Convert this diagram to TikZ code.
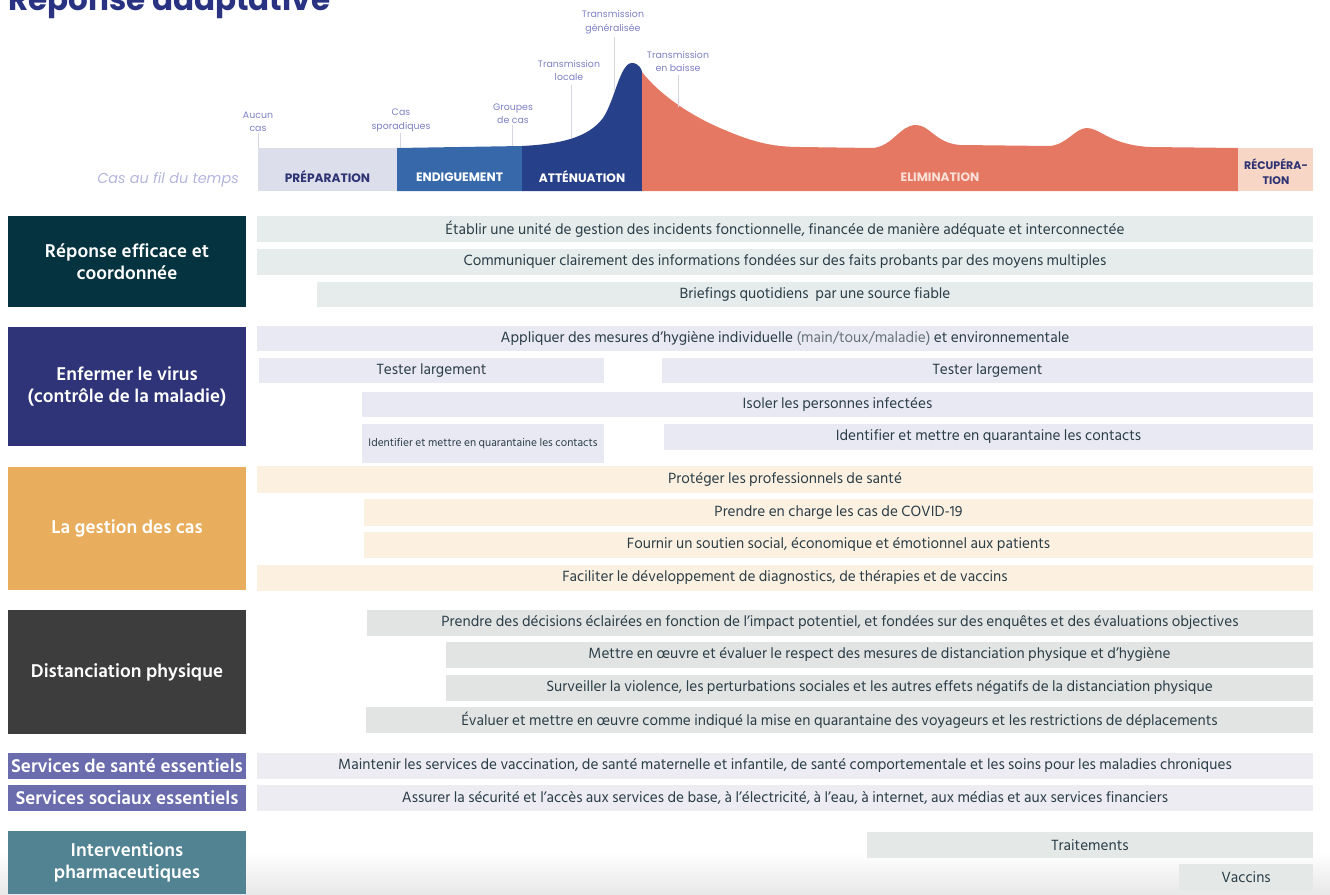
\documentclass[tikz,border=0pt]{standalone}
\usepackage{fontspec}
\setmainfont{Hind Siliguri}
\newfontfamily\geo{Poppins}
\definecolor{titleC}{HTML}{2A3382}
\definecolor{lblC}{HTML}{7D80C4}
\definecolor{tickC}{HTML}{D4D6E0}
\definecolor{casC}{HTML}{B3B5DD}
\definecolor{prepC}{HTML}{DDDEEC}
\definecolor{navyT}{HTML}{2E3373}
\definecolor{endC}{HTML}{3768AA}
\definecolor{attC}{HTML}{27408A}
\definecolor{elimC}{HTML}{E47863}
\definecolor{elimT}{HTML}{FAE0D6}
\definecolor{recC}{HTML}{F7D6C5}
\definecolor{catA}{HTML}{063340}
\definecolor{catB}{HTML}{2E3477}
\definecolor{catC}{HTML}{E9AE5D}
\definecolor{catD}{HTML}{3D3D3D}
\definecolor{catE}{HTML}{6B6CAD}
\definecolor{catF}{HTML}{528392}
\definecolor{gA}{HTML}{E5ECEB}
\definecolor{gB}{HTML}{E9E9F4}
\definecolor{gC}{HTML}{FCF1E1}
\definecolor{gD}{HTML}{E2E4E3}
\definecolor{gE}{HTML}{ECECF2}
\definecolor{gF}{HTML}{E4E9E8}
\definecolor{barT}{HTML}{2B3D47}
\definecolor{softT}{HTML}{66727B}
\newcommand\rbar[8]{\node[#8, fill=#2, minimum width={(#5-#3)*1pt}, minimum height={(#6-#4)*1pt}] (#1) at ({(#3+#5)/2},{(#4+#6)/2}) {#7};}
\begin{document}
\begin{tikzpicture}[x=1pt,y=-1pt,
  rowbar/.style={inner sep=0pt, text=barT, font=\fontsize{15.2}{17}\selectfont},
  catbox/.style={inner sep=0pt, text=white, align=center, font=\fontsize{19}{22}\selectfont\bfseries},
  phasebox/.style={inner sep=0pt, align=center, font=\geo\fontsize{12.2}{13}\selectfont\bfseries},
  lbl/.style={inner sep=1pt, align=center, text=lblC, font=\geo\fontsize{9.4}{13.5}\selectfont},
  tick/.style={draw=tickC, line width=0.8pt}]
\useasboundingbox (0,0) rectangle (1330,894);
\shade[top color=white, bottom color=black!9] (0,852) rectangle (1330,894);
% title
\node[anchor=base west, inner sep=0pt, text=titleC, font=\geo\fontsize{31}{34}\selectfont\bfseries] (title) at (8,10) {Réponse adaptative};
% curve
\fill[endC] (397,148) -- (397,191) -- (522,191) -- (522,146) -- cycle;
\fill[attC] (522,146) .. controls (560,144) and (588,138) .. (603,118) .. controls (615,100) and (620,63) .. (632,63) .. controls (639,63) and (642,70) .. (642,72) -- (642,191) -- (522,191) -- cycle;
\fill[elimC] (642,72) .. controls (660,95) and (690,115) .. (720,128) .. controls (750,141) and (770,147) .. (800,147) -- (873,148) .. controls (893,146) and (900,125) .. (916,125) .. controls (930,125) and (935,143) .. (960,145) -- (1050,146) .. controls (1068,144) and (1075,128) .. (1087,128) .. controls (1100,128) and (1110,145) .. (1150,147) -- (1238,148) -- (1238,191) -- (642,191) -- cycle;
\fill[prepC] (258,148) rectangle (397,191);
\node[phasebox, text=navyT] (p1) at (327.5,177) {PRÉPARATION};
\node[phasebox, text=white] (p2) at (459.5,177) {ENDIGUEMENT};
\node[phasebox, text=white] (p3) at (582,177) {ATTÉNUATION};
\node[phasebox, text=elimT] (p4) at (940,177) {ELIMINATION};
\fill[recC] (1238,148) rectangle (1313,191);
\node[phasebox, text=navyT, font=\geo\fontsize{11}{15}\selectfont\bfseries] (p5) at (1276,172) {RÉCUPÉRA-\\TION};
\node[anchor=east, inner sep=0pt, text=casC, font=\geo\fontsize{14.4}{16}\selectfont\itshape] (cas) at (239,180) {Cas au fil du temps};
% curve labels
\node[lbl, anchor=south] (l1) at (258,133) {Aucun\\cas};
\coordinate (t1) at (258,148);
\draw[tick] (l1.south) -- (t1);
\node[lbl, anchor=south] (l2) at (401,133) {Cas\\sporadiques};
\coordinate (t2) at (400,148);
\draw[tick] (400,133) -- (t2);
\node[lbl, anchor=south] (l3) at (513,125) {Groupes\\de cas};
\coordinate (t3) at (512,146);
\draw[tick] (512,125) -- (t3);
\node[lbl, anchor=south] (l4) at (569,82) {Transmission\\locale};
\coordinate (t4) at (571,138);
\draw[tick] (571,85) -- (t4);
\node[lbl, anchor=south] (l5) at (613,35) {Transmission\\généralisée};
\coordinate (t5) at (614,92);
\draw[tick] (614,37) -- (t5);
\node[lbl, anchor=south] (l6) at (678,73) {Transmission\\en baisse};
\coordinate (t6) at (678,107);
\draw[tick] (678,75) -- (t6);
% categories
\rbar{c1}{catA}{8}{216}{246}{307}{Réponse efficace et\\coordonnée}{catbox}
\rbar{c2}{catB}{8}{327}{246}{446}{Enfermer le virus\\(contrôle de la maladie)}{catbox}
\rbar{c3}{catC}{8}{467}{246}{590}{La gestion des cas}{catbox}
\rbar{c4}{catD}{8}{610}{246}{734}{Distanciation physique}{catbox}
\rbar{c5}{catE}{8}{753}{246}{779}{Services de santé essentiels}{catbox}
\rbar{c6}{catE}{8}{785}{246}{811}{Services sociaux essentiels}{catbox}
\rbar{c7}{catF}{8}{831}{246}{894}{Interventions\\pharmaceutiques}{catbox}
% group 1
\rbar{a1}{gA}{257}{216}{1313}{242}{Établir une unité de gestion des incidents fonctionnelle, financée de manière adéquate et interconnectée}{rowbar}
\rbar{a2}{gA}{257}{249}{1313}{275}{Communiquer clairement des informations fondées sur des faits probants par des moyens multiples}{rowbar}
\rbar{a3}{gA}{317}{282}{1313}{307}{Briefings quotidiens\ \ par une source fiable}{rowbar}
% group 2
\rbar{b1}{gB}{257}{326}{1313}{351}{Appliquer des mesures d’hygiène individuelle {\color{softT}(main/toux/maladie)} et environnementale}{rowbar}
\rbar{b2}{gB}{259}{358}{604}{383}{Tester largement}{rowbar}
\rbar{b3}{gB}{662}{358}{1313}{383}{Tester largement}{rowbar}
\rbar{b4}{gB}{362}{392}{1313}{417}{Isoler les personnes infectées}{rowbar}
\rbar{b5}{gB}{362}{424}{604}{463}{Identifier et mettre en quarantaine les contacts}{rowbar, font=\fontsize{11.4}{12}\selectfont}
\rbar{b6}{gB}{664}{424}{1313}{450}{Identifier et mettre en quarantaine les contacts}{rowbar}
% group 3
\rbar{d1}{gC}{257}{466}{1313}{493}{Protéger les professionnels de santé}{rowbar}
\rbar{d2}{gC}{364}{499}{1313}{526}{Prendre en charge les cas de COVID-19}{rowbar}
\rbar{d3}{gC}{364}{532}{1313}{558}{Fournir un soutien social, économique et émotionnel aux patients}{rowbar}
\rbar{d4}{gC}{257}{565}{1313}{591}{Faciliter le développement de diagnostics, de thérapies et de vaccins}{rowbar}
% group 4
\rbar{e1}{gD}{367}{610}{1313}{636}{Prendre des décisions éclairées en fonction de l’impact potentiel, et fondées sur des enquêtes et des évaluations objectives}{rowbar}
\rbar{e2}{gD}{446}{642}{1313}{668}{Mettre en œuvre et évaluer le respect des mesures de distanciation physique et d’hygiène}{rowbar}
\rbar{e3}{gD}{446}{675}{1313}{701}{Surveiller la violence, les perturbations sociales et les autres effets négatifs de la distanciation physique}{rowbar}
\rbar{e4}{gD}{366}{707}{1313}{733}{Évaluer et mettre en œuvre comme indiqué la mise en quarantaine des voyageurs et les restrictions de déplacements}{rowbar}
% group 5
\rbar{f1}{gE}{257}{753}{1313}{779}{Maintenir les services de vaccination, de santé maternelle et infantile, de santé comportementale et les soins pour les maladies chroniques}{rowbar}
\rbar{f2}{gE}{257}{785}{1313}{811}{Assurer la sécurité et l’accès aux services de base, à l’électricité, à l’eau, à internet, aux médias et aux services financiers}{rowbar}
% group 6
\rbar{h1}{gF}{867}{832}{1313}{858}{Traitements}{rowbar}
\rbar{h2}{gF}{1179}{864}{1313}{891}{Vaccins}{rowbar}
\end{tikzpicture}
\end{document}
